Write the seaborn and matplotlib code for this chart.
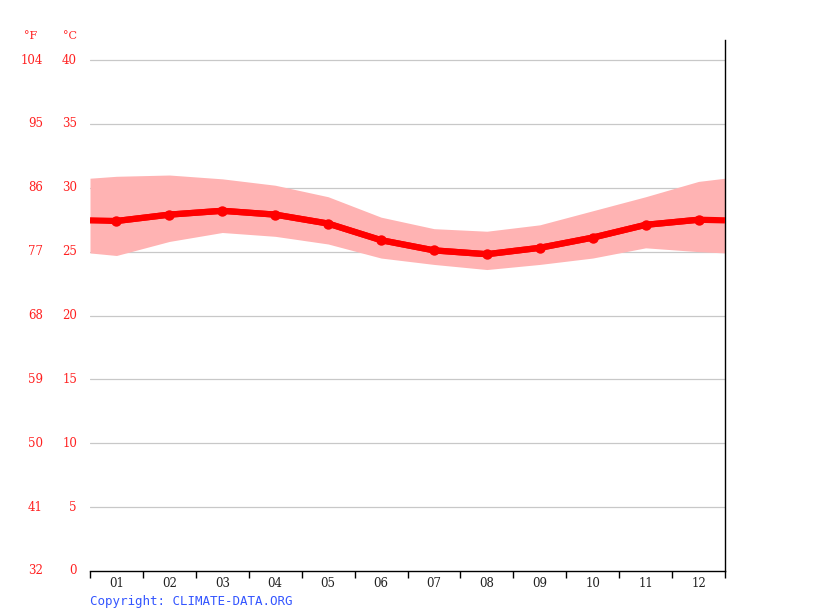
import numpy as np
import pandas as pd
import matplotlib
matplotlib.use("Agg")
import matplotlib.pyplot as plt
import matplotlib.transforms as mtransforms
import seaborn as sns

# Monthly temperatures (deg C)
months = ["01", "02", "03", "04", "05", "06", "07", "08", "09", "10", "11", "12"]
mean_temp = [27.4, 27.9, 28.2, 27.9, 27.2, 25.9, 25.1, 24.8, 25.3, 26.1, 27.1, 27.5]
max_temp = [30.9, 31.0, 30.7, 30.2, 29.3, 27.7, 26.8, 26.6, 27.1, 28.2, 29.3, 30.5]
min_temp = [24.7, 25.8, 26.5, 26.2, 25.6, 24.5, 24.0, 23.6, 24.0, 24.5, 25.3, 25.0]
# values where the curves meet the left/right edge of the plot
edge_mean = 27.45
edge_max = 30.75
edge_min = 24.9

celsius_ticks = [0, 5, 10, 15, 20, 25, 30, 35, 40]
fahrenheit_ticks = ["32", "41", "50", "59", "68", "77", "86", "95", "104"]

sns.set_style("white")
plt.rcParams["font.family"] = ["DejaVu Serif"]

df = pd.DataFrame({"x": np.arange(1, 13), "mean": mean_temp})
x_full = np.concatenate([[0.5], df["x"], [12.5]])
mean_full = np.concatenate([[edge_mean], mean_temp, [edge_mean]])
max_full = np.concatenate([[edge_max], max_temp, [edge_max]])
min_full = np.concatenate([[edge_min], min_temp, [edge_min]])

fig = plt.figure(figsize=(8.15, 6.11), dpi=100)
ax = fig.add_axes([90 / 815, 40 / 611, 635 / 815, 531 / 611])

ax.fill_between(x_full, min_full, max_full, color="#ffb3b3", linewidth=0, zorder=2)
ax.plot(x_full, mean_full, color="#ff0000", lw=4.5, zorder=3, solid_capstyle="butt")
sns.lineplot(data=df, x="x", y="mean", ax=ax, color="#ff0000", lw=4.5,
             marker="o", markersize=7.5, markeredgewidth=0, zorder=4)

ax.set_xlim(0.5, 12.5)
ax.set_ylim(0, 41.57)

for t in celsius_ticks[1:]:
    ax.axhline(t, color="#c8c8c8", lw=0.9, zorder=1)

ax.set_yticks([])
ax.set_xticks(np.arange(0.5, 13, 1))
ax.set_xticklabels([])
ax.set_xticks(np.arange(1, 13), minor=True)
ax.set_xticklabels(months, minor=True, fontsize=8.5, color="#222222")
ax.tick_params(axis="x", which="major", direction="out", length=5, width=1, color="black", bottom=True)
ax.tick_params(axis="x", which="minor", length=0, pad=4)

for s in ["top", "left"]:
    ax.spines[s].set_visible(False)
ax.spines["bottom"].set_color("black")
ax.spines["right"].set_color("black")
ax.spines["bottom"].set_linewidth(1)
ax.spines["right"].set_linewidth(1)
ax.set_xlabel("")
ax.set_ylabel("")

trans = mtransforms.blended_transform_factory(fig.transFigure, ax.transData)
for c, f in zip(celsius_ticks, fahrenheit_ticks):
    ax.text(77 / 815, c, str(c), transform=trans, ha="right", va="center",
            color="#ff2020", fontsize=8.5)
    ax.text(43 / 815, c, f, transform=trans, ha="right", va="center",
            color="#ff2020", fontsize=8.5)

fig.text(37 / 815, 1 - 36 / 611, "°F", ha="right", va="center", color="#ff2020", fontsize=8)
fig.text(77 / 815, 1 - 36 / 611, "°C", ha="right", va="center", color="#ff2020", fontsize=8)
fig.text(90 / 815, 1 - 601 / 611, "Copyright: CLIMATE-DATA.ORG", ha="left", va="center",
         color="#3355ff", fontsize=9, family="DejaVu Sans Mono")

fig.savefig("out.png", dpi=100)
